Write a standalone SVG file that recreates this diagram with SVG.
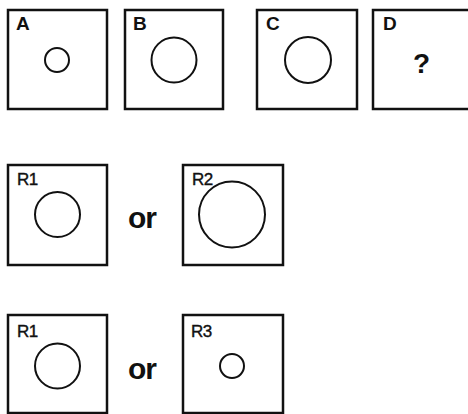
<svg xmlns="http://www.w3.org/2000/svg" width="468" height="414" viewBox="0 0 468 414">
<style>
.box{fill:#fff;stroke:#111;stroke-width:2.5}
.c{fill:none;stroke:#111;stroke-width:2}
.lb{font-family:"Liberation Sans",Arial,sans-serif;font-weight:bold;font-size:19px;fill:#111}
.lr{font-family:"Liberation Sans",Arial,sans-serif;font-size:17px;fill:#111;letter-spacing:-0.5px;stroke:#111;stroke-width:0.4}
.or{font-family:"Liberation Sans",Arial,sans-serif;font-weight:bold;font-size:30px;fill:#111;letter-spacing:-1px}
</style>
<rect width="468" height="414" fill="#fff"/>
<g id="A"><rect class="box" x="8" y="10" width="99" height="99"/><text class="lb" x="16" y="30">A</text><circle class="c" cx="57" cy="60" r="12"/></g>
<g id="B"><rect class="box" x="125" y="10" width="98" height="99"/><text class="lb" x="133" y="30">B</text><circle class="c" cx="174" cy="60" r="22.5"/></g>
<g id="C"><rect class="box" x="257" y="10" width="100" height="99"/><text class="lb" x="266" y="30">C</text><circle class="c" cx="308" cy="60" r="23"/></g>
<g id="D"><rect class="box" x="373" y="10" width="99" height="99"/><text class="lb" x="383" y="30">D</text><text class="lb" x="413" y="73" style="font-size:28px">?</text></g>
<g id="R1a"><rect class="box" x="8" y="165" width="99" height="100"/><text class="lr" x="17" y="185">R1</text><circle class="c" cx="57.5" cy="214.5" r="22.5"/></g>
<text class="or" x="128" y="228">or</text>
<g id="R2"><rect class="box" x="183" y="165" width="100" height="100"/><text class="lr" x="192" y="185">R2</text><circle class="c" cx="232" cy="214.5" r="33"/></g>
<g id="R1b"><rect class="box" x="8" y="315" width="99" height="98"/><text class="lr" x="17" y="337">R1</text><circle class="c" cx="57.5" cy="366" r="22.5"/></g>
<text class="or" x="128" y="379">or</text>
<g id="R3"><rect class="box" x="183" y="315" width="100" height="98"/><text class="lr" x="191" y="337">R3</text><circle class="c" cx="232" cy="366" r="12"/></g>
<g id="connectors"/>
</svg>
